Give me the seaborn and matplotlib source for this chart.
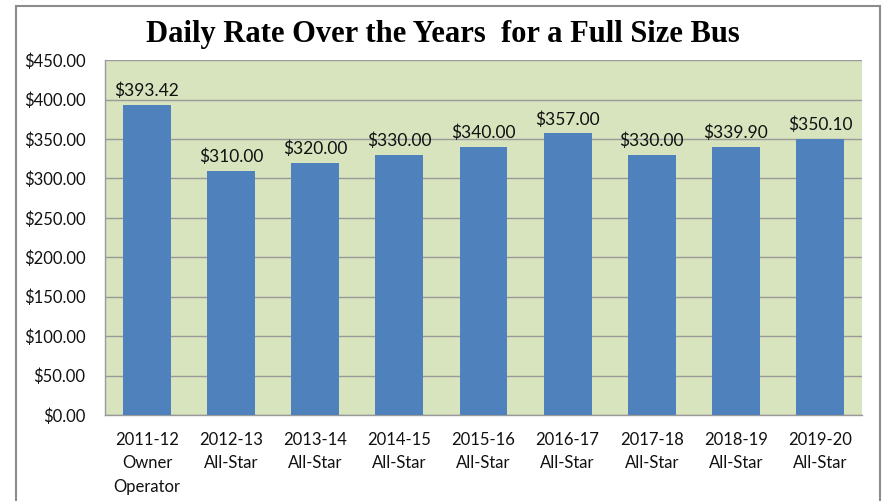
import matplotlib
matplotlib.use("Agg")
import matplotlib.pyplot as plt
import matplotlib.patches as mpatches
import seaborn as sns
import pandas as pd

years = ["2011-12", "2012-13", "2013-14", "2014-15", "2015-16",
         "2016-17", "2017-18", "2018-19", "2019-20"]
operators = ["Owner\nOperator", "All-Star", "All-Star", "All-Star", "All-Star",
             "All-Star", "All-Star", "All-Star", "All-Star"]
rates = [393.42, 310.00, 320.00, 330.00, 340.00, 357.00, 330.00, 339.90, 350.10]
y_ticks = [0, 50, 100, 150, 200, 250, 300, 350, 400, 450]

labels = [f"{y}\n{o}" for y, o in zip(years, operators)]
df = pd.DataFrame({"label": labels, "rate": rates})

sns.set_theme(style="white")
plt.rcParams["font.family"] = ["Lato", "DejaVu Sans"]

fig = plt.figure(figsize=(8.85, 5.01), dpi=100)
ax = fig.add_axes([0.1186, 0.1717, 0.974 - 0.1186, 0.880 - 0.1717])

# outer chart frame
fig.patches.append(mpatches.Rectangle((16 / 885, -0.05), (880 - 16) / 885, 1.05 - 6 / 501,
                                      transform=fig.transFigure, fill=False,
                                      edgecolor="#8c8c8c", linewidth=1.5, zorder=0))

ax.set_facecolor("#D7E4BD")
sns.barplot(data=df, x="label", y="rate", color="#4F81BD", saturation=1,
            width=0.57, linewidth=0, edgecolor="none", ax=ax, zorder=3)

ax.set_ylim(0, 450)
ax.set_yticks(y_ticks)
ax.set_yticklabels([f"${v:.2f}" for v in y_ticks], fontsize=12, color="#111111")
ax.yaxis.grid(True, color="#9a9a9a", linewidth=1)
ax.set_axisbelow(True)
ax.tick_params(axis="x", labelsize=12, colors="#111111", length=0, pad=12)
ax.tick_params(axis="y", length=0, pad=14)
for lbl in ax.get_xticklabels():
    lbl.set_linespacing(1.6)
ax.set_xlabel("")
ax.set_ylabel("")

for side in ["top", "right"]:
    ax.spines[side].set_visible(False)
for side in ["left", "bottom"]:
    ax.spines[side].set_color("#9a9a9a")
    ax.spines[side].set_linewidth(1)

for i, v in enumerate(rates):
    ax.text(i, v + 7, f"${v:.2f}", ha="center", va="bottom",
            fontsize=12.5, color="#111111", zorder=4)

fig.text(0.5, 0.932, "Daily Rate Over the Years  for a Full Size Bus",
         ha="center", va="center", fontsize=22, fontweight="bold",
         family="Liberation Serif", color="#000000")

fig.savefig("out.png", dpi=100)
